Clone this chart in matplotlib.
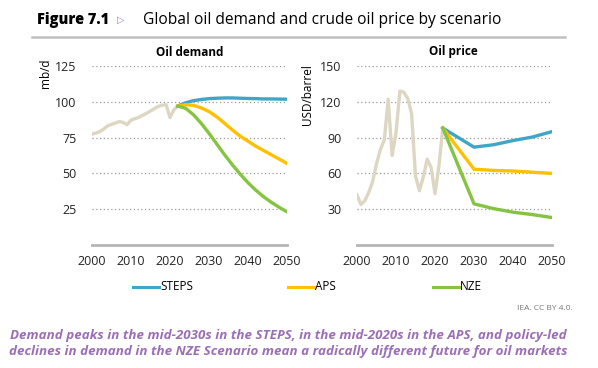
import matplotlib.pyplot as plt
import matplotlib.lines as mlines

# historical data
hist_years = list(range(2000, 2023))
hist_demand = [77.5, 78.2, 79.2, 81.0, 83.2, 84.2, 85.2, 86.2, 85.6, 84.0, 87.2,
               88.2, 89.2, 90.6, 92.0, 93.6, 95.2, 96.8, 97.6, 98.0, 89.0, 94.4, 97.0]
hist_price = [42, 34, 37, 44, 53, 68, 80, 88, 122, 75, 94,
              129, 128, 123, 110, 58, 45.5, 57, 72, 65, 43, 66, 98]

# projections, demand (mb/d)
dem_years = list(range(2022, 2051, 2))
steps_demand = [97.0, 99.3, 100.8, 101.6, 102.2, 102.5, 102.7, 102.7, 102.5, 102.3,
                102.2, 102.0, 102.0, 101.9, 101.8]
aps_demand = [97.0, 98.0, 97.5, 95.8, 93.2, 89.5, 85.0, 80.3, 76.0, 72.5,
              69.0, 66.0, 63.0, 60.0, 57.0]
nze_demand = [97.0, 95.5, 91.0, 85.0, 78.0, 70.5, 63.0, 56.0, 49.5, 43.5,
              38.3, 33.7, 29.8, 26.3, 23.2]

# projections, price (USD/barrel)
price_years = [2022, 2030, 2035, 2040, 2045, 2050]
steps_price = [98, 82, 84, 87.5, 90.5, 95]
aps_price = [98, 63.5, 62.5, 62, 61, 60]
nze_price = [98, 34.5, 30.5, 27.5, 25.5, 23]

c_hist = '#ddd6c3'
c_steps = '#3fa6c8'
c_aps = '#ffc000'
c_nze = '#84c440'
c_grid = '#9a9a9a'

plt.rcParams['font.family'] = ['Open Sans', 'DejaVu Sans']

fig = plt.figure(figsize=(5.98, 3.68), dpi=100)
ax1 = fig.add_axes([92 / 598, 1 - 245 / 368, 195 / 598, 179 / 368])
ax2 = fig.add_axes([357 / 598, 1 - 245 / 368, 195 / 598, 179 / 368])


def style(ax, ymax, yticks):
    ax.set_xlim(2000, 2050)
    ax.set_ylim(0, ymax)
    ax.set_xticks([2000, 2010, 2020, 2030, 2040, 2050])
    ax.set_yticks(yticks)
    for s in ['top', 'right', 'left']:
        ax.spines[s].set_visible(False)
    ax.spines['bottom'].set_color('#b5b5b5')
    ax.spines['bottom'].set_linewidth(2)
    ax.tick_params(length=0, labelsize=9, colors='#222222')
    ax.tick_params(axis='y', pad=11)
    ax.tick_params(axis='x', pad=7)
    for t in yticks:
        ax.axhline(t, color=c_grid, lw=0.9, ls=(0, (1, 2)), zorder=0)


style(ax1, 125, [25, 50, 75, 100, 125])
style(ax2, 150, [30, 60, 90, 120, 150])

lw = 2.4
ax1.plot(hist_years, hist_demand, color=c_hist, lw=lw, solid_joinstyle='round')
ax1.plot(dem_years, steps_demand, color=c_steps, lw=lw)
ax1.plot(dem_years, aps_demand, color=c_aps, lw=lw)
ax1.plot(dem_years, nze_demand, color=c_nze, lw=lw)

ax2.plot(hist_years, hist_price, color=c_hist, lw=lw, solid_joinstyle='round')
ax2.plot(price_years, steps_price, color=c_steps, lw=lw)
ax2.plot(price_years, aps_price, color=c_aps, lw=lw)
ax2.plot(price_years, nze_price, color=c_nze, lw=lw)

fig.text(45 / 598, 1 - 73 / 368, 'mb/d', rotation=90, ha='center', va='center', fontsize=8.5)
fig.text(308 / 598, 1 - 95 / 368, 'USD/barrel', rotation=90, ha='center', va='center', fontsize=8.5)
fig.text(190 / 598, 1 - 52 / 368, 'Oil demand', ha='center', va='center', fontsize=8.5, fontweight='bold')
fig.text(453 / 598, 1 - 52 / 368, 'Oil price', ha='center', va='center', fontsize=8.5, fontweight='bold')

# header
fig.text(37 / 598, 1 - 20 / 368, 'Figure 7.1', ha='left', va='center', fontsize=10.5, fontweight='heavy')
fig.text(121 / 598, 1 - 20 / 368, '\u25b7', ha='center', va='center', fontsize=7, color='#a57cc0',
         family=['DejaVu Sans'])
fig.text(143 / 598, 1 - 20 / 368, 'Global oil demand and crude oil price by scenario',
         ha='left', va='center', fontsize=11.2)
fig.add_artist(mlines.Line2D([32 / 598, 565 / 598], [1 - 37 / 368, 1 - 37 / 368],
                             color='#c0c0c0', lw=1.8))

# legend
for x0, col, name in [(133, c_steps, 'STEPS'), (288, c_aps, 'APS'), (433, c_nze, 'NZE')]:
    fig.add_artist(mlines.Line2D([x0 / 598, (x0 + 26) / 598], [1 - 287 / 368] * 2, color=col, lw=2.2))
    fig.text((x0 + 27) / 598, 1 - 287 / 368, name, ha='left', va='center', fontsize=8.5)

fig.text(573 / 598, 1 - 309 / 368, 'IEA. CC BY 4.0.', ha='right', va='center', fontsize=6, color='#777777')

cap_color = '#9b6fb5'
fig.text(288 / 598, 1 - 335 / 368,
         'Demand peaks in the mid-2030s in the STEPS, in the mid-2020s in the APS, and policy-led',
         ha='center', va='center', fontsize=9.6, fontweight='bold', style='italic', color=cap_color)
fig.text(288 / 598, 1 - 352 / 368,
         'declines in demand in the NZE Scenario mean a radically different future for oil markets',
         ha='center', va='center', fontsize=9.6, fontweight='bold', style='italic', color=cap_color)

fig.savefig('out.png', dpi=100)
